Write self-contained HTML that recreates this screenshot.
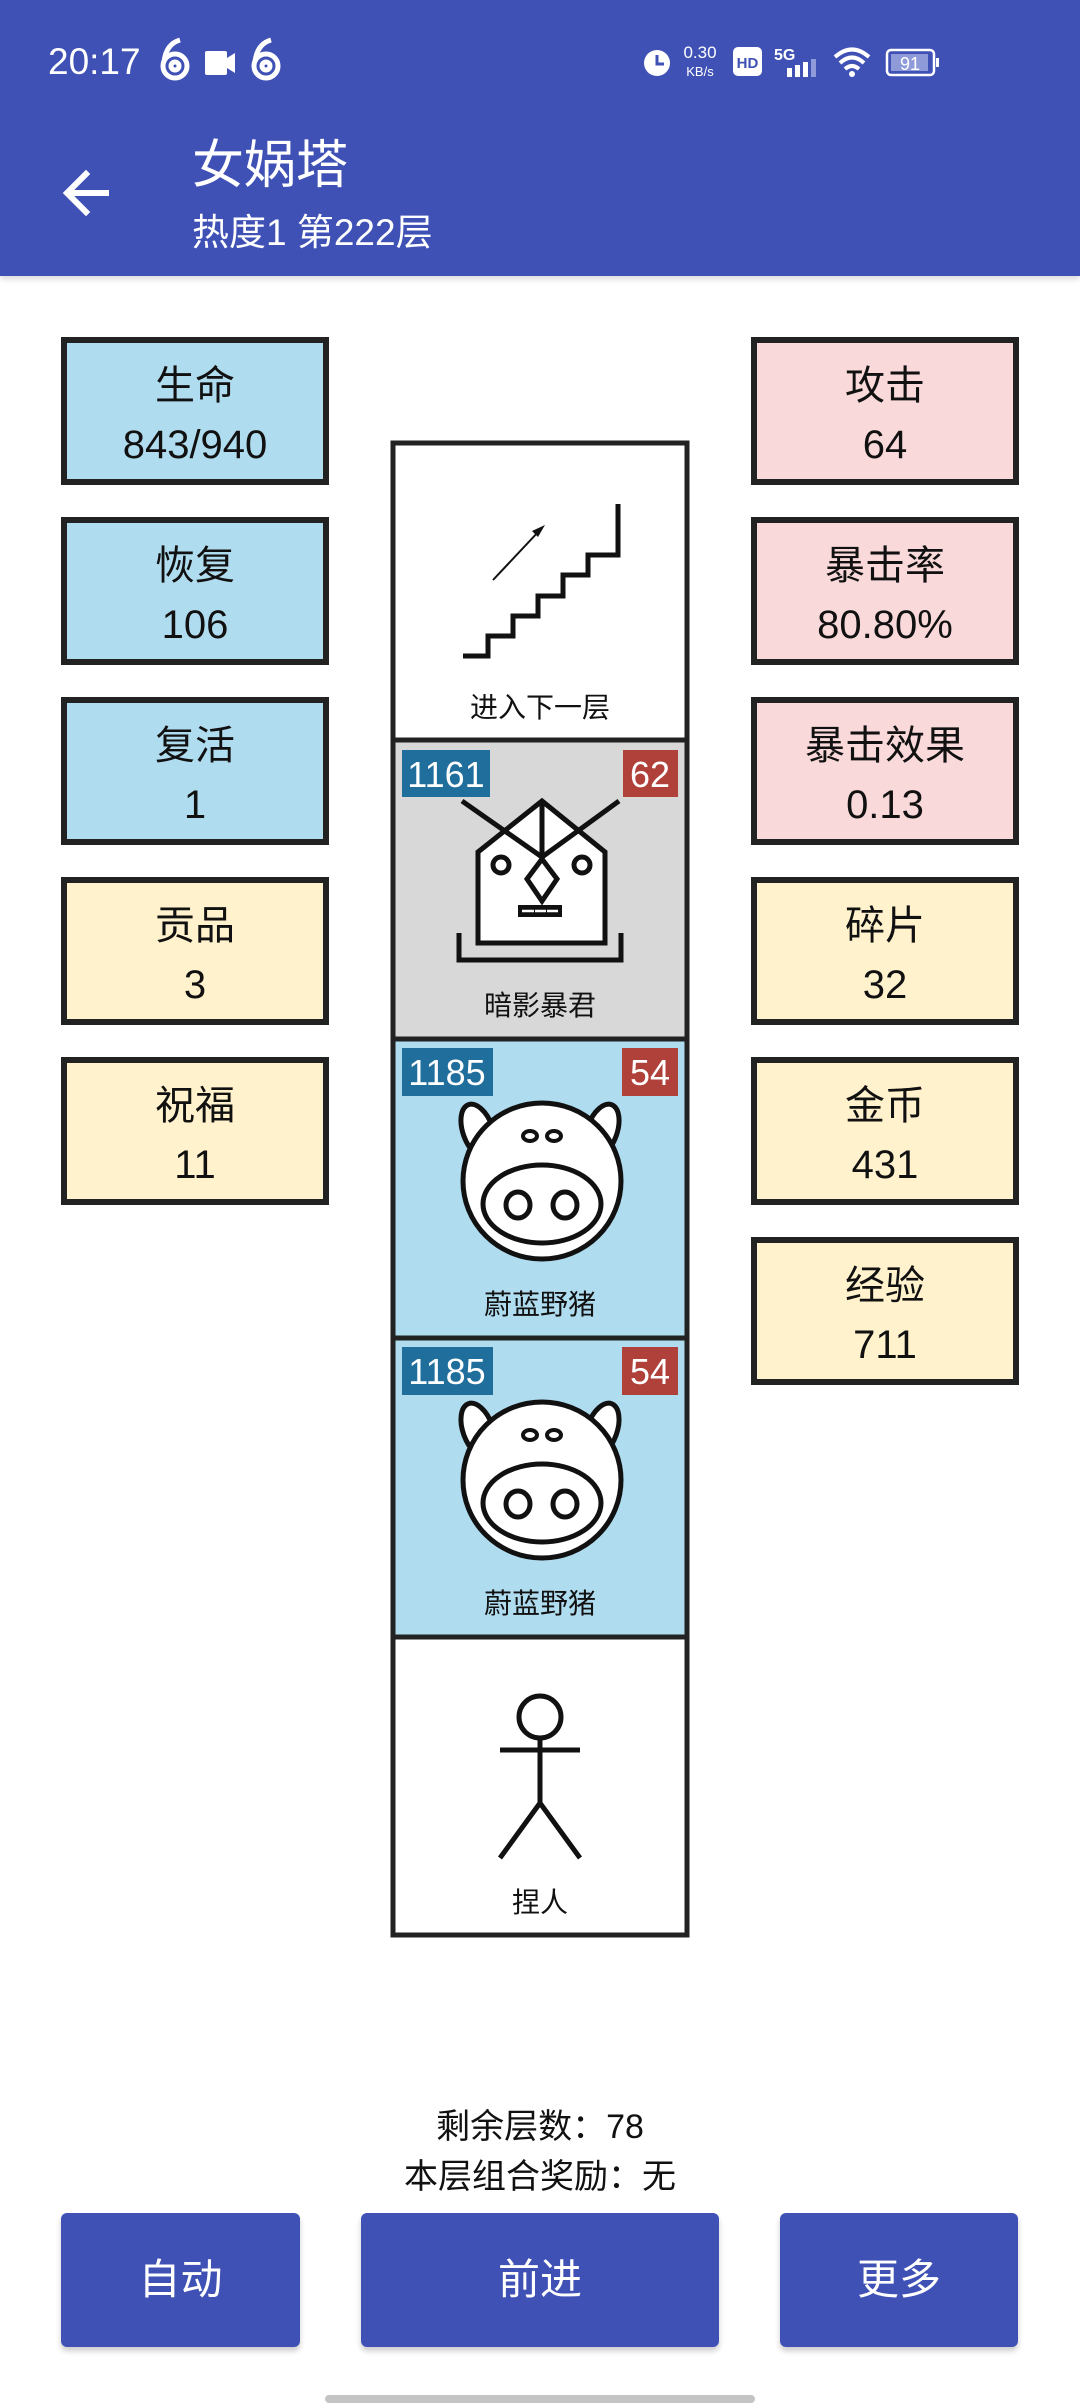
<!DOCTYPE html>
<html><head><meta charset="utf-8"><style>
*{margin:0;padding:0;box-sizing:border-box}
body{width:1080px;height:2408px;background:#fff;position:relative;overflow:hidden;font-family:"Liberation Sans","Noto Sans CJK SC",sans-serif}
.hdr{position:absolute;left:0;top:0;width:1080px;height:276px;background:#3f51b5;box-shadow:0 3px 6px rgba(0,0,0,.15)}
.t{position:absolute;color:#fff;white-space:nowrap}
.box{position:absolute;width:268px;height:148px;border:6px solid #222;text-align:center;color:#111;font-size:40px}
.box .a{position:absolute;left:0;right:0;top:15px;line-height:56px}
.box .b{position:absolute;left:0;right:0;top:74px;line-height:56px}
.L{left:61px}.R{left:751px}
.bl{background:#b0dcef}.pk{background:#f9d9d9}.ye{background:#fff2cc}
.btn{position:absolute;top:2213px;height:134px;background:#3f51b5;border-radius:6px;color:#fff;font-size:42px;text-align:center;line-height:134px;box-shadow:0 4px 6px rgba(0,0,0,.2)}
</style></head><body>
<div class="hdr"></div>
<div class="t" style="left:48px;top:38px;font-size:37px;line-height:48px">20:17</div>
<svg style="position:absolute;left:0;top:0" width="1080" height="276">
<g fill="none" stroke="#fff" stroke-width="5">
<circle cx="175" cy="66" r="12"/><path d="M164 62 Q166 44 180 40"/><circle cx="175" cy="66" r="4"/>
<circle cx="266" cy="66" r="12"/><path d="M255 62 Q257 44 271 40"/><circle cx="266" cy="66" r="4"/>
</g>
<rect x="205" y="51" width="22" height="24" rx="2" fill="#fff"/><path d="M227 58 L235 53 L235 73 L227 68Z" fill="#fff"/>
<circle cx="657" cy="63" r="13" fill="#fff"/><path d="M657 55 V64 H664" stroke="#3f51b5" stroke-width="3" fill="none"/>
<text x="700" y="58" font-size="17" fill="#fff" text-anchor="middle" font-family="Liberation Sans">0.30</text>
<text x="700" y="76" font-size="13" fill="#fff" text-anchor="middle" font-family="Liberation Sans">KB/s</text>
<rect x="733" y="47" width="29" height="29" rx="5" fill="#fff"/><text x="747.5" y="68" font-size="15" font-weight="bold" fill="#3f51b5" text-anchor="middle" font-family="Liberation Sans">HD</text>
<text x="774" y="60" font-size="16" font-weight="bold" fill="#fff" font-family="Liberation Sans">5G</text>
<rect x="787" y="68" width="5" height="9" fill="#fff"/><rect x="795" y="65" width="5" height="12" fill="#fff"/><rect x="803" y="62" width="5" height="15" fill="#fff"/><rect x="811" y="59" width="5" height="18" fill="#8f9bd8"/>
<path d="M835 57 Q852 42 869 57 M840 63 Q852 52 864 63 M845 69 Q852 63 859 69" stroke="#fff" stroke-width="4" fill="none"/><circle cx="852" cy="74" r="3" fill="#fff"/>
<rect x="887" y="50" width="47" height="25" rx="4" fill="none" stroke="#fff" stroke-width="2.5"/><rect x="891" y="54" width="37" height="17" fill="#8f9bd8"/><rect x="936" y="58" width="3" height="9" fill="#fff"/>
<text x="910" y="70" font-size="18" fill="#fff" text-anchor="middle" font-family="Liberation Sans">91</text>
<path d="M70 193 H106 M86 174 L67 193 L86 212" stroke="#fff" stroke-width="6" fill="none" stroke-linecap="square"/>
</svg>
<div class="t" style="left:192px;top:136px;font-size:52px;line-height:60px">女娲塔</div>
<div class="t" style="left:192px;top:211px;font-size:37px;line-height:44px">热度1 第222层</div>

<div class="box L bl" style="top:337px"><div class="a">生命</div><div class="b">843/940</div></div>
<div class="box L bl" style="top:517px"><div class="a">恢复</div><div class="b">106</div></div>
<div class="box L bl" style="top:697px"><div class="a">复活</div><div class="b">1</div></div>
<div class="box L ye" style="top:877px"><div class="a">贡品</div><div class="b">3</div></div>
<div class="box L ye" style="top:1057px"><div class="a">祝福</div><div class="b">11</div></div>
<div class="box R pk" style="top:337px"><div class="a">攻击</div><div class="b">64</div></div>
<div class="box R pk" style="top:517px"><div class="a">暴击率</div><div class="b">80.80%</div></div>
<div class="box R pk" style="top:697px"><div class="a">暴击效果</div><div class="b">0.13</div></div>
<div class="box R ye" style="top:877px"><div class="a">碎片</div><div class="b">32</div></div>
<div class="box R ye" style="top:1057px"><div class="a">金币</div><div class="b">431</div></div>
<div class="box R ye" style="top:1237px"><div class="a">经验</div><div class="b">711</div></div>

<svg style="position:absolute;left:0;top:0" width="1080" height="2408">
<g font-family="Liberation Sans,Noto Sans CJK SC,sans-serif">
<rect x="393" y="443" width="294" height="1492" fill="#fff"/>
<rect x="393" y="740" width="294" height="299" fill="#d8d8d8"/>
<rect x="393" y="1039" width="294" height="299" fill="#b0dcef"/>
<rect x="393" y="1338" width="294" height="299" fill="#b0dcef"/>
<g stroke="#222" stroke-width="5" fill="none">
<rect x="393" y="443" width="294" height="1492"/>
<path d="M393 740 H687 M393 1039 H687 M393 1338 H687 M393 1637 H687"/>
</g>
<path d="M463 656 H488 V636 H513 V616 H538 V596 H563 V575 H588 V555 H618 V504" stroke="#111" stroke-width="5" fill="none"/>
<path d="M493 580 L540 530" stroke="#111" stroke-width="2" fill="none"/><path d="M545 525 L532 531 L538 537Z" fill="#111"/>
<text x="540" y="717" font-size="28" text-anchor="middle" fill="#111">进入下一层</text>
<rect x="402" y="750" width="88" height="47" fill="#1f6e9c"/><text x="446" y="787" font-size="36" fill="#fff" text-anchor="middle">1161</text>
<rect x="623" y="750" width="55" height="47" fill="#b0403a"/><text x="650" y="787" font-size="36" fill="#fff" text-anchor="middle">62</text>
<g stroke="#111" stroke-width="5" fill="#fff">
<path d="M478 943 V852 L542 801 L605 852 V943Z"/>
<path d="M462 801 L542 857 L619 801 M542 801 V857" fill="none"/>
<path d="M542 859 L527 879 L542 901 L557 879Z"/>
<circle cx="501" cy="865" r="8"/><circle cx="582" cy="865" r="8"/>
<path d="M459 933 V960 H621 V933" fill="none"/>
</g>
<rect x="518" y="905" width="44" height="12" fill="#111"/>
<path d="M522 911 H534 M535 911 H546 M547 911 H558" stroke="#fff" stroke-width="2.5"/>
<text x="540" y="1015" font-size="28" text-anchor="middle" fill="#111">暗影暴君</text>
<g id="pig">
<rect x="402" y="1347" width="91" height="48" fill="#1f6e9c"/><text x="447" y="1384" font-size="36" fill="#fff" text-anchor="middle">1185</text>
<rect x="622" y="1347" width="56" height="48" fill="#b0403a"/><text x="650" y="1384" font-size="36" fill="#fff" text-anchor="middle">54</text>
<g stroke="#111" stroke-width="5" fill="#fff">
<ellipse cx="478" cy="1430" rx="15" ry="28" transform="rotate(-20 478 1430)"/>
<ellipse cx="602" cy="1430" rx="15" ry="28" transform="rotate(20 602 1430)"/>
<ellipse cx="542" cy="1480" rx="79" ry="78"/>
<ellipse cx="542" cy="1503" rx="59" ry="39"/>
<ellipse cx="518" cy="1504" rx="12" ry="13"/><ellipse cx="565" cy="1504" rx="12" ry="13"/>
</g>
<g stroke="#111" stroke-width="4" fill="#fff"><ellipse cx="530" cy="1435" rx="7" ry="5"/><ellipse cx="554" cy="1435" rx="7" ry="5"/></g>
<text x="540" y="1613" font-size="28" text-anchor="middle" fill="#111">蔚蓝野猪</text>
</g>
<use href="#pig" transform="translate(0,-299)"/>
<g stroke="#111" stroke-width="5" fill="none">
<circle cx="540" cy="1717" r="21"/>
<path d="M500 1750 H580 M540 1738 V1803 L500 1858 M540 1803 L580 1858"/>
</g>
<text x="540" y="1912" font-size="28" text-anchor="middle" fill="#111">捏人</text>
</g>
</svg>

<div style="position:absolute;left:0;width:1080px;top:2105px;text-align:center;font-size:34px;line-height:44px;color:#111">剩余层数：78</div>
<div style="position:absolute;left:0;width:1080px;top:2155px;text-align:center;font-size:34px;line-height:44px;color:#111">本层组合奖励：无</div>
<div class="btn" style="left:61px;width:239px">自动</div>
<div class="btn" style="left:361px;width:358px">前进</div>
<div class="btn" style="left:780px;width:238px">更多</div>
<div style="position:absolute;left:325px;top:2395px;width:430px;height:8px;border-radius:4px;background:#c4c4c4"></div>
</body></html>
